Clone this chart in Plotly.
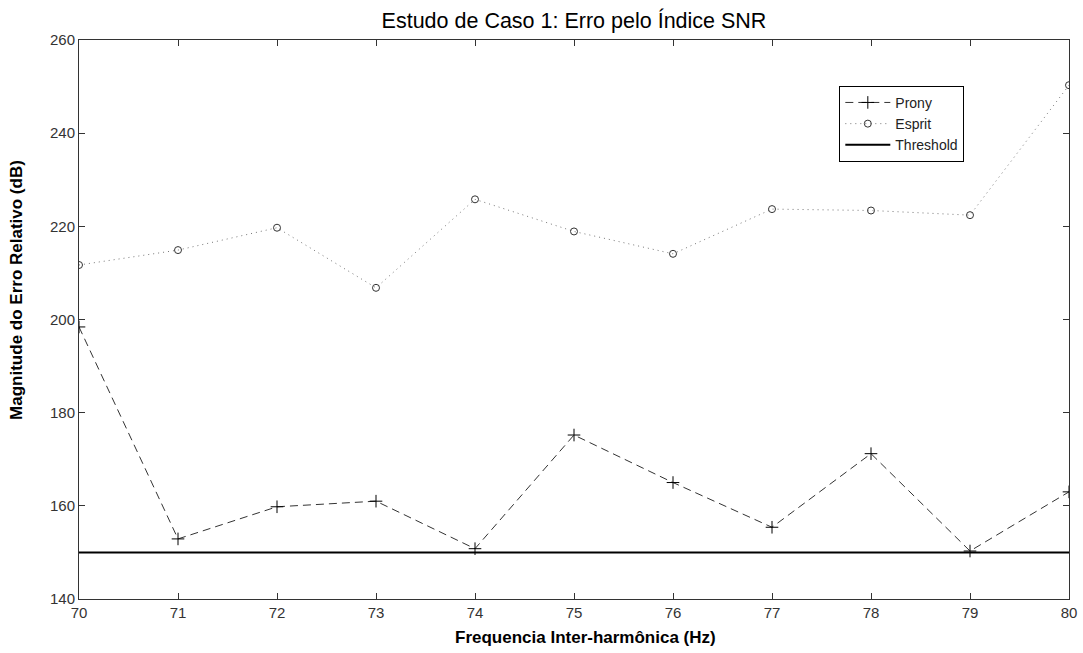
import plotly.graph_objects as go

freq = [70, 71, 72, 73, 74, 75, 76, 77, 78, 79, 80]
prony = [198.4, 152.9, 159.8, 161.0, 150.8, 175.2, 165.0, 155.4, 171.2, 150.3, 163.0]
esprit = [211.7, 214.9, 219.7, 206.8, 225.8, 218.9, 214.1, 223.7, 223.4, 222.4, 250.3]
threshold = [150] * len(freq)
xticks = list(range(70, 81))
yticks = [140, 160, 180, 200, 220, 240, 260]

fig = go.Figure()
fig.add_trace(go.Scatter(
    x=freq, y=prony, name="Prony", mode="lines+markers",
    line=dict(color="#333333", width=1, dash="8px,5px"),
    marker=dict(symbol="cross-thin", size=9, line=dict(color="black", width=1), color="black"),
))
fig.add_trace(go.Scatter(
    x=freq, y=esprit, name="Esprit", mode="lines+markers",
    line=dict(color="#777777", width=1, dash="1px,4px"),
    marker=dict(symbol="circle-open", size=7, line=dict(color="#333333", width=1), color="#333333"),
))
fig.add_trace(go.Scatter(
    x=freq, y=threshold, name="Threshold", mode="lines",
    line=dict(color="black", width=2),
))

fig.update_layout(
    width=1083, height=653,
    paper_bgcolor="white", plot_bgcolor="white",
    margin=dict(l=79, r=14, t=40, b=54),
    font=dict(family="Liberation Sans, Arial, sans-serif", color="#222222"),
    title=dict(text="Estudo de Caso 1: Erro pelo Índice SNR", x=0.5, xref="paper", xanchor="center",
               y=0.969, yanchor="middle", font=dict(size=21.5, color="black")),
    legend=dict(x=0.768, y=0.918, xanchor="left", yanchor="top",
                bordercolor="black", borderwidth=1, bgcolor="white",
                font=dict(size=14, color="#222222"), tracegroupgap=0, itemwidth=45),
    showlegend=True,
    annotations=[
        dict(text="<b>Frequencia Inter-harmônica (Hz)</b>", xref="paper", yref="paper",
             x=0.5115, y=-0.068, xanchor="center", yanchor="middle", showarrow=False,
             font=dict(size=17, color="black")),
        dict(text="<b>Magnitude do Erro Relativo (dB)</b>", xref="paper", yref="paper",
             x=-0.0626, y=0.553, xanchor="center", yanchor="middle", showarrow=False,
             textangle=-90, font=dict(size=17, color="black")),
    ],
)
fig.update_xaxes(
    range=[70, 80], tickvals=xticks, ticktext=[str(v) for v in xticks],
    ticks="inside", ticklen=6, tickcolor="#333333", mirror="ticks",
    showline=True, linecolor="#333333", linewidth=1, showgrid=False, zeroline=False,
    tickfont=dict(size=15, color="#333333"), automargin=False,
)
fig.update_yaxes(
    range=[140, 260], tickvals=yticks, ticktext=[str(v) for v in yticks],
    ticks="inside", ticklen=6, tickcolor="#333333", mirror="ticks",
    showline=True, linecolor="#333333", linewidth=1, showgrid=False, zeroline=False,
    tickfont=dict(size=15, color="#333333"), automargin=False,
)

fig.write_html("out.html")
